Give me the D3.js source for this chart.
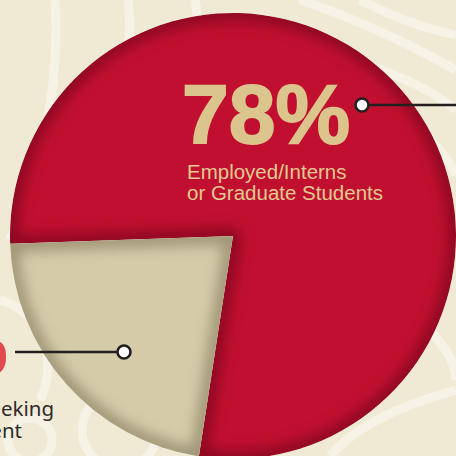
<!DOCTYPE html>
<html>
<head>
<meta charset="utf-8">
<script src="https://cdn.jsdelivr.net/npm/d3@7"></script>
<style>
  html, body { margin: 0; padding: 0; background: #f0ead5; }
  svg { display: block; }
</style>
</head>
<body>
<script>
// chart data
const categories = ["Employed/Interns or Graduate Students", "Seeking Employment"];
const values = [78, 22];
const pctLabels = ["78%", "22%"];
const colors = ["#c1102f", "#d5cba9"];
const shadeColors = ["#5a0016", "#6b6046"];

const W = 456, H = 456;
const cx = 233, cy = 236, R = 223;

const svg = d3.select("body").append("svg")
  .attr("width", W).attr("height", H);

const defs = svg.append("defs");

defs.append("filter").attr("id", "soft")
  .attr("x", "-20%").attr("y", "-20%").attr("width", "140%").attr("height", "140%")
  .attr("color-interpolation-filters", "sRGB")
  .append("feGaussianBlur").attr("stdDeviation", 7);

// background swirls (decoration)
const bg = svg.append("g").attr("fill", "none").attr("stroke", "#f6f2e5").attr("stroke-width", 9);
bg.append("path").attr("d", "M55,0 C60,80 45,160 10,240");
bg.append("path").attr("d", "M128,0 C135,60 120,120 70,180");
bg.append("path").attr("d", "M195,0 C200,20 195,40 185,60");
bg.append("path").attr("d", "M300,0 C360,20 420,50 456,70");
bg.append("path").attr("d", "M360,0 C400,20 430,30 456,35");
bg.append("path").attr("d", "M300,45 C360,60 420,80 456,110");
bg.append("path").attr("d", "M420,130 C440,150 450,160 456,175");
bg.append("path").attr("d", "M0,300 C40,310 60,360 40,400");
bg.append("circle").attr("cx", 120).attr("cy", 430).attr("r", 38);
bg.append("circle").attr("cx", 30).attr("cy", 440).attr("r", 22);
bg.append("path").attr("d", "M330,456 C360,420 420,400 456,390");
bg.append("path").attr("d", "M420,320 C440,340 456,360 456,380");

// pie
const start = -92 * Math.PI / 180;
const pie = d3.pie().sort(null).startAngle(start).endAngle(start + 2 * Math.PI);
const arc = d3.arc().innerRadius(0).outerRadius(R);
const arcs = pie(values);

const g = svg.append("g").attr("transform", `translate(${cx},${cy})`);

arcs.forEach((d, i) => {
  defs.append("clipPath").attr("id", "clip" + i)
    .append("path").attr("d", arc(d));
  const sg = g.append("g").attr("clip-path", `url(#clip${i})`);
  sg.append("path").attr("d", arc(d)).attr("fill", colors[i]);
  // inner shade along the slice edges
  sg.append("path").attr("d", arc(d))
    .attr("fill", "none")
    .attr("stroke", shadeColors[i])
    .attr("stroke-opacity", 0.55)
    .attr("stroke-width", 15)
    .attr("stroke-linejoin", "round")
    .attr("filter", "url(#soft)");
});

// 78% label
svg.append("text")
  .attr("x", 182).attr("y", 143)
  .attr("font-family", "Liberation Sans, Arial, sans-serif")
  .attr("font-weight", "bold")
  .attr("font-size", 84)
  .attr("fill", "#dcc58c")
  .attr("stroke", "#dcc58c").attr("stroke-width", 1.8)
  .text(pctLabels[0]);

const sub = svg.append("text")
  .attr("font-family", "Liberation Sans, Arial, sans-serif")
  .attr("font-size", 20.5)
  .attr("fill", "#e3c992");
sub.append("tspan").attr("x", 187).attr("y", 179).text("Employed/Interns");
sub.append("tspan").attr("x", 187).attr("y", 200).text("or Graduate Students");

// 22% label (mostly off canvas)
svg.append("text")
  .attr("x", 8).attr("y", 373)
  .attr("text-anchor", "end")
  .attr("font-family", "Liberation Sans, Arial, sans-serif")
  .attr("font-weight", "bold")
  .attr("font-size", 78)
  .attr("fill", "#e04a4e")
  .text(pctLabels[1]);

const sub2 = svg.append("text")
  .attr("text-anchor", "end")
  .attr("font-family", "Noto Sans, Open Sans, sans-serif")
  .attr("font-size", 20.5)
  .attr("fill", "#2e2b2b");
sub2.append("tspan").attr("x", 54).attr("y", 416).text("Seeking");
sub2.append("tspan").attr("x", 22).attr("y", 438).text("Employment");

// leader lines
const leaders = [
  { x1: 362, x2: 456, y: 105 },
  { x1: 124, x2: 15, y: 352 }
];
leaders.forEach(l => {
  svg.append("line")
    .attr("x1", l.x1).attr("x2", l.x2).attr("y1", l.y).attr("y2", l.y)
    .attr("stroke", "#231f20").attr("stroke-width", 2.6);
  svg.append("circle")
    .attr("cx", l.x1).attr("cy", l.y).attr("r", 6.5)
    .attr("fill", "#fff").attr("stroke", "#231f20").attr("stroke-width", 2.6);
});
</script>
</body>
</html>
